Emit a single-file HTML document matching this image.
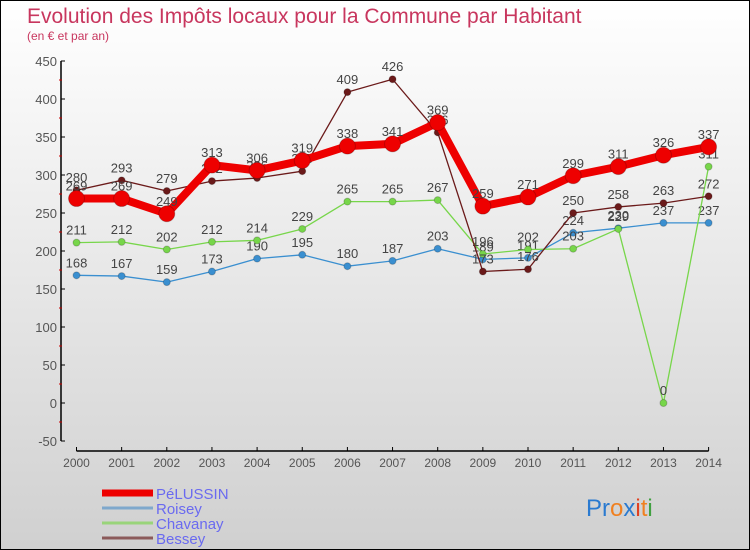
<!DOCTYPE html>
<html><head><meta charset="utf-8"><style>
body{margin:0}
#c{width:748px;height:548px;border:1px solid #000;background:linear-gradient(#fff,#d0d0d0);position:relative;font-family:"Liberation Sans",sans-serif;overflow:hidden}
.t{position:absolute;left:26px;top:4px;font-size:21px;color:#c8365e;font-weight:300}
.s{position:absolute;left:26px;top:28px;font-size:12px;color:#c8365e}
svg{position:absolute;left:0;top:0}
text{font-family:"Liberation Sans",sans-serif}
</style></head><body>
<div id="c">
<div class="t">Evolution des Impôts locaux pour la Commune par Habitant</div>
<div class="s">(en € et par an)</div>
<svg id="g" width="750" height="550"></svg>
</div>
<script>
const years=[2000,2001,2002,2003,2004,2005,2006,2007,2008,2009,2010,2011,2012,2013,2014];
const yTicks=[450,400,350,300,250,200,150,100,50,0,-50];
const pelussin=[269,269,249,313,306,319,338,341,369,259,271,299,311,326,337];
const roisey=[168,167,159,173,190,195,180,187,203,189,191,224,230,237,237];
const chavanay=[211,212,202,212,214,229,265,265,267,196,202,203,229,0,311];
const bessey=[280,293,279,292,296,305,409,426,356,173,176,250,258,263,272];
const names=["PéLUSSIN","Roisey","Chavanay","Bessey"];
const NS="http://www.w3.org/2000/svg";
const g=document.getElementById('g');
const X=i=>75.5+i*45.15;
const Y=v=>402-(v)*0.76;
function el(t,a,p){const e=document.createElementNS(NS,t);for(const k in a)e.setAttribute(k,a[k]);(p||g).appendChild(e);return e;}
let e=el('line',{x1:60,y1:Y(450),x2:60,y2:Y(-50),stroke:'#000','stroke-width':1.5});


yTicks.forEach(v=>{el('line',{x1:60,x2:64,y1:Y(v),y2:Y(v),stroke:'#000'});
 el('line',{x1:58,x2:61,y1:Y(v-25),y2:Y(v-25),stroke:v-25>=-50?'#c00':'none'});
 const t=el('text',{x:56,y:Y(v)+5,'text-anchor':'end','font-size':13,fill:'#555'});t.textContent=v;
 
 });
e=el('line',{x1:X(0),x2:X(14),y1:450,y2:450,stroke:'#000','stroke-width':1.5});


years.forEach((y,i)=>{el('line',{x1:X(i),x2:X(i),y1:446,y2:450,stroke:'#000'});
 const t=el('text',{x:X(i),y:466,'text-anchor':'middle','font-size':12,fill:'#555'});t.textContent=y;
 
 });
function series(d,col,w,r,name){
 const p=el('polyline',{points:d.map((v,i)=>X(i)+','+Y(v)).join(' '),fill:'none',stroke:col,'stroke-width':w,'stroke-linejoin':'round'});
 
 
 d.forEach((v,i)=>{const c=el('circle',{cx:X(i),cy:Y(v),r:r,fill:col,stroke:'rgba(0,0,0,0.2)'});
  
  
  const t=el('text',{x:X(i),y:Y(v)-8,'text-anchor':'middle','font-size':13,fill:'#444'});t.textContent=v;
  
  });
}
series(roisey,'#3a8fd0',1.3,3.5,'roisey');
series(chavanay,'#77d64a',1.3,3.5,'chavanay');
series(bessey,'#6b1a1a',1.3,3.5,'bessey');
series(pelussin,'#ee0000',8,8,'pelussin');
const lc=['#ee0000','#7fa8cc','#99d47a','#8b5a5a'],lw=[7,3,3,3];
names.forEach((n,i)=>{const y=492+i*15;
 const l=el('line',{x1:101,x2:152,y1:y,y2:y,stroke:lc[i],'stroke-width':lw[i]});
 
 
 const t=el('text',{x:155,y:y+6,'font-size':15,fill:'#6a6af0'});t.textContent=n;
 
 });
const logo=el('text',{x:585,y:515,'font-size':24});


[['Pr','#2a7ad0'],['o','#f08020'],['x','#2a7ad0'],['i','#e04020'],['t','#f08020'],['i','#40a040']].forEach(([s,c])=>{const sp=el('tspan',{fill:c},logo);sp.textContent=s;});
</script>
</body></html>
